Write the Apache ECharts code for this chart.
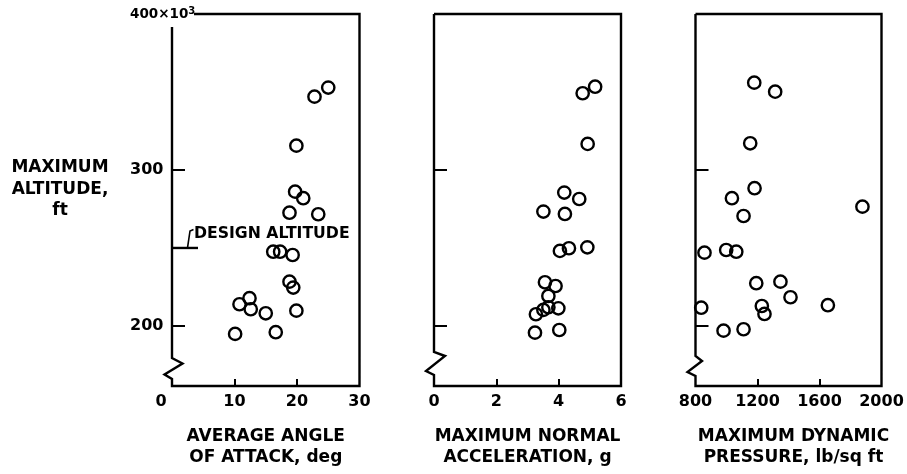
<!DOCTYPE html>
<html><head><meta charset="utf-8">
<script src="https://cdn.jsdelivr.net/npm/echarts@6.0.0/dist/echarts.min.js"></script>
<style>html,body{margin:0;padding:0;background:#fff}#c{width:907px;height:474px}</style>
</head><body><div id="c"></div>
<script>
// ---- data ----
const angleOfAttack = [25.0, 22.8, 19.9, 19.7, 21.0, 18.8, 23.4, 16.2, 17.3, 19.3, 18.8, 19.4, 12.4, 10.8, 12.6, 15.0, 19.9, 10.1, 16.6];
const altitudeA     = [352.8, 347.0, 315.6, 286.1, 281.9, 272.6, 271.6, 247.6, 247.6, 245.5, 228.4, 224.6, 217.8, 213.9, 210.7, 208.1, 209.8, 194.9, 196.0];
const normalAccel   = [5.17, 4.77, 4.93, 4.18, 4.66, 3.51, 4.20, 4.04, 4.33, 4.92, 3.56, 3.90, 3.67, 3.51, 3.67, 3.99, 3.27, 3.24, 4.02];
const altitudeN     = [353.4, 349.2, 316.7, 285.5, 281.4, 273.3, 271.8, 248.1, 249.8, 250.4, 228.0, 225.6, 219.2, 210.3, 212.0, 211.3, 207.5, 195.7, 197.4];
const dynamicPressure = [1179, 1314, 1153, 1181, 1035, 1110, 1877, 858, 998, 1063, 1192, 1348, 1413, 1654, 1228, 1245, 837, 981, 1110];
const altitudeQ     = [356.0, 350.2, 317.1, 288.3, 281.9, 270.5, 276.5, 247.0, 248.7, 247.6, 227.4, 228.4, 218.4, 213.3, 212.8, 207.7, 211.7, 197.0, 197.9];

const yTicks = [200, 300, 400];
const yTickTicks = [200, 300];
const yMin = 161.5, yMax = 400;
const xTicksA = [0, 10, 20, 30];
const xTicksN = [0, 2, 4, 6];
const xTicksQ = [800, 1200, 1600, 2000];
const designAltitude = 250;
const designLabel = 'DESIGN ALTITUDE';
const yTitle = 'MAXIMUM\nALTITUDE,\nft\n ';
const xTitles = ['AVERAGE ANGLE\nOF ATTACK, deg', 'MAXIMUM NORMAL\nACCELERATION, g', 'MAXIMUM DYNAMIC\nPRESSURE, lb/sq ft'];

// ---- layout ----
const TOP = 14, H = 372, B = TOP + H;
const panels = [
  {left: 172, width: 187.5, ticks: xTicksA, xs: angleOfAttack, ys: altitudeA, zig: [7, 11.5, 22.5, 28], zx: [-7.5, 10.5], titlePad: [0,0,0,0]},
  {left: 434, width: 187, ticks: xTicksN, xs: normalAccel, ys: altitudeN, zig: [11, 15, 30, 34], zx: [-8, 11], titlePad: [0,0,0,0]},
  {left: 695.5, width: 186, ticks: xTicksQ, xs: dynamicPressure, ys: altitudeQ, zig: [10, 14, 25, 30], zx: [-8, 6.5], titlePad: [0,0,0,10]}
];
const numFont = {fontFamily: 'DejaVu Sans', fontWeight: 'bold', fontSize: 16, color: '#000'};
const titleFont = {fontFamily: 'DejaVu Sans', fontWeight: 'bold', fontSize: 17, color: '#000'};

const grid = [], xAxis = [], yAxis = [], series = [];
panels.forEach((p, i) => {
  grid.push({left: p.left, top: TOP, width: p.width, height: H, containLabel: false, outerBoundsMode: 'none'});
  xAxis.push({
    gridIndex: i, type: 'value', min: p.ticks[0], max: p.ticks[p.ticks.length - 1],
    axisLine: {show: false}, splitLine: {show: false},
    axisTick: {show: true, inside: true, length: 7, lineStyle: {color: '#000', width: 2}, customValues: p.ticks.slice(1, -1)},
    axisLabel: Object.assign({}, numFont, {
      customValues: p.ticks, margin: 8,
      formatter: v => (i === 0 && v === 0) ? '{l|0}' : String(v),
      rich: {l: Object.assign({}, numFont, {padding: [0, 22, 0, 0]})}
    }),
    name: xTitles[i], nameLocation: 'middle', nameGap: 40, nameMoveOverlap: false,
    nameTextStyle: Object.assign({}, titleFont, {lineHeight: 21, align: 'center', verticalAlign: 'top', padding: p.titlePad})
  });
  const y = {
    gridIndex: i, type: 'value', min: yMin, max: yMax,
    axisLine: {show: false}, splitLine: {show: false},
    axisTick: {show: true, inside: true, length: 13, lineStyle: {color: '#000', width: 2}, customValues: yTickTicks},
    axisLabel: {show: false}
  };
  if (i === 0) {
    y.axisLabel = Object.assign({}, numFont, {
      show: true, customValues: yTicks, align: 'left', margin: 42,
      formatter: v => v === 400 ? '{n|400×10}{s|3}' : String(v),
      rich: {
        n: {fontFamily: 'DejaVu Sans', fontWeight: 'bold', fontSize: 13.5, color: '#000', lineHeight: 16},
        s: {fontFamily: 'DejaVu Sans', fontWeight: 'bold', fontSize: 10, color: '#000', verticalAlign: 'top', lineHeight: 16}
      }
    });
    y.name = yTitle; y.nameLocation = 'middle'; y.nameRotate = 0; y.nameGap = 112; y.nameMoveOverlap = false;
    y.nameTextStyle = Object.assign({}, titleFont, {lineHeight: 21.5, align: 'center', verticalAlign: 'middle'});
  }
  yAxis.push(y);
  series.push({
    type: 'scatter', xAxisIndex: i, yAxisIndex: i,
    data: p.xs.map((x, k) => [x, p.ys[k]]),
    symbol: 'circle', symbolSize: 12.3, silent: true,
    itemStyle: {color: 'rgba(0,0,0,0)', borderColor: '#000', borderWidth: 2.4, opacity: 1}
  });
});

const chart = echarts.init(document.getElementById('c'), null, {renderer: 'canvas'});
chart.setOption({animation: false, backgroundColor: '#fff', grid, xAxis, yAxis, series});

// ---- frame with axis break, design altitude marker ----
const g = [];
const lineStyle = {stroke: '#000', lineWidth: 2.4, fill: null, lineJoin: 'miter'};
panels.forEach((p, i) => {
  const L = p.left, R = p.left + p.width, z = p.zig;
  const pts = [];
  if (i === 0) pts.push([194, TOP]); else pts.push([L, TOP]);
  pts.push([R, TOP], [R, B], [L, B], [L, B - z[0]], [L + p.zx[0], B - z[1]], [L + p.zx[1], B - z[2]], [L, B - z[3]]);
  pts.push([L, i === 0 ? 27 : TOP]);
  g.push({type: 'polyline', silent: true, shape: {points: pts}, style: lineStyle});
});
const yd = chart.convertToPixel({gridIndex: 0}, [0, designAltitude])[1];
const L0 = panels[0].left;
g.push({type: 'polyline', silent: true, shape: {points: [[L0, yd], [L0 + 26, yd]]}, style: lineStyle});
g.push({type: 'polyline', silent: true, shape: {points: [[L0 + 15.5, yd], [L0 + 18, yd - 17], [L0 + 21.5, yd - 18.5]]}, style: {stroke: '#000', lineWidth: 1.6, fill: null}});
g.push({type: 'text', silent: true, x: L0 + 22, y: yd - 14, style: {text: designLabel, font: 'bold 15.7px "DejaVu Sans"', fill: '#000', align: 'left', verticalAlign: 'middle'}});
chart.setOption({graphic: g});
</script></body></html>
